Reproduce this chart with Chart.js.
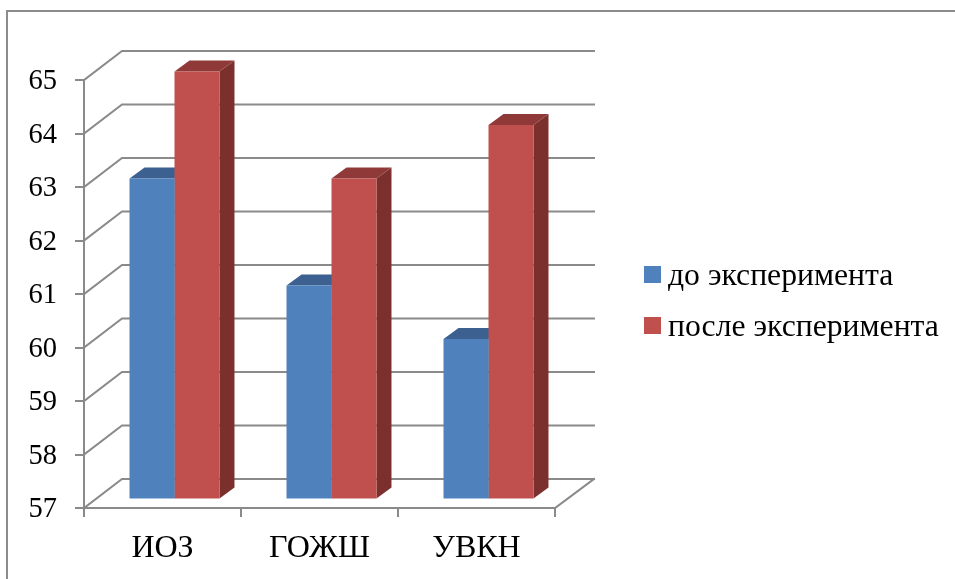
<!DOCTYPE html>
<html lang="ru">
<head>
<meta charset="utf-8">
<title>ИОЗ, ГОЖШ, УВКН</title>
<script src="https://cdn.jsdelivr.net/npm/chart.js@4"></script>
<style>
  html, body { margin: 0; padding: 0; background: #fff; }
  canvas { display: block; }
</style>
</head>
<body>
<canvas id="chart" width="955" height="579"></canvas>
<script>
const categories = ['ИОЗ', 'ГОЖШ', 'УВКН'];
const beforeValues = [63, 61, 60];
const afterValues = [65, 63, 64];
const seriesNames = ['до эксперимента', 'после эксперимента'];

const AXIS_MIN = 57;
const AXIS_MAX = 65;

const FONT = '"Liberation Serif", "Times New Roman", serif';
const LINE = '#8a8a8a';
const FACE = ['#4f81bd', '#c0504d'];
const TOP = ['#3c6190', '#8f3a38'];
const SIDE = ['#37587f', '#7c302e'];

// Depth of the box (wall offset) and of the bars, plus where bars sit on the floor.
const WALL = { dx: 39, dy: -29 };
const BAR_SHIFT = { dx: 12, dy: -8.5 };
const BAR_DEPTH = { dx: 15, dy: -11 };

const framePlugin = {
  id: 'frame',
  beforeDraw(chart) {
    const { ctx } = chart;
    ctx.save();
    ctx.strokeStyle = '#8c8c8c';
    ctx.lineWidth = 2;
    ctx.beginPath();
    ctx.moveTo(7, 579);
    ctx.lineTo(7, 11);
    ctx.lineTo(955, 11);
    ctx.stroke();
    ctx.restore();
  }
};

function polygon(ctx, color, pts) {
  ctx.fillStyle = color;
  ctx.beginPath();
  pts.forEach((p, i) => (i ? ctx.lineTo(p[0], p[1]) : ctx.moveTo(p[0], p[1])));
  ctx.closePath();
  ctx.fill();
}

// Back wall, floor and the hidden faces of each bar; front faces come from Chart.js.
const depthPlugin = {
  id: 'depth',
  beforeDatasetsDraw(chart) {
    const { ctx, chartArea: area, scales: { y } } = chart;
    ctx.save();
    ctx.strokeStyle = LINE;
    ctx.lineWidth = 2;
    ctx.lineCap = 'square';
    y.ticks.forEach(t => {
      const py = y.getPixelForValue(t.value);
      ctx.beginPath();
      ctx.moveTo(area.left, py);
      ctx.lineTo(area.left + 38, py + WALL.dy);
      ctx.lineTo(area.right + WALL.dx, py + WALL.dy);
      ctx.stroke();
    });
    ctx.beginPath();
    ctx.moveTo(area.right, y.getPixelForValue(AXIS_MIN));
    ctx.lineTo(area.right + WALL.dx, y.getPixelForValue(AXIS_MIN) + WALL.dy);
    ctx.stroke();
    ctx.restore();

    ctx.save();
    ctx.translate(BAR_SHIFT.dx, BAR_SHIFT.dy);
    chart.data.datasets.forEach((ds, di) => {
      chart.getDatasetMeta(di).data.forEach(bar => {
        const l = bar.x - bar.width / 2;
        const r = bar.x + bar.width / 2;
        const t = bar.y;
        const b = bar.base;
        const d = BAR_DEPTH;
        polygon(ctx, SIDE[di], [[r, t], [r + d.dx, t + d.dy], [r + d.dx, b + d.dy], [r, b]]);
        polygon(ctx, TOP[di], [[l, t], [l + d.dx, t + d.dy], [r + d.dx, t + d.dy], [r, t]]);
      });
    });
    // The shift stays active while Chart.js paints the bar fronts.
  },
  afterDatasetsDraw(chart) {
    chart.ctx.restore();
  }
};

const legendPlugin = {
  id: 'sideLegend',
  afterDraw(chart) {
    const { ctx } = chart;
    ctx.save();
    ctx.font = '31.7px ' + FONT;
    ctx.textBaseline = 'alphabetic';
    chart.data.datasets.forEach((ds, i) => {
      const y = 266 + i * 51;
      ctx.fillStyle = ds.backgroundColor;
      ctx.fillRect(644, y, 17, 17);
      ctx.fillStyle = '#000';
      ctx.fillText(ds.label, 668, y + 19);
    });
    ctx.restore();
  }
};

new Chart(document.getElementById('chart'), {
  type: 'bar',
  data: {
    labels: categories,
    datasets: [
      { label: seriesNames[0], data: beforeValues, base: AXIS_MIN, backgroundColor: FACE[0], clip: false },
      { label: seriesNames[1], data: afterValues, base: AXIS_MIN, backgroundColor: FACE[1], clip: false }
    ]
  },
  options: {
    responsive: false,
    animation: false,
    events: [],
    layout: { padding: { left: 0, top: 80, right: 400, bottom: 0 } },
    datasets: { bar: { categoryPercentage: 0.573, barPercentage: 1 } },
    plugins: { legend: { display: false }, tooltip: { enabled: false } },
    scales: {
      x: {
        afterFit(scale) { scale.height = 71; },
        border: { color: LINE, width: 2 },
        grid: { drawOnChartArea: false, drawTicks: true, tickLength: 9, color: LINE, lineWidth: 2 },
        ticks: { color: '#000', font: { family: FONT, size: 32 }, padding: 12, maxRotation: 0 }
      },
      y: {
        min: AXIS_MIN,
        max: AXIS_MAX,
        afterFit(scale) { scale.width = 84; },
        border: { color: LINE, width: 2 },
        grid: { drawOnChartArea: false, drawTicks: true, tickLength: 9, color: LINE, lineWidth: 2 },
        ticks: { stepSize: 1, color: '#000', font: { family: FONT, size: 28.5 }, padding: 18, labelOffset: 2 }
      }
    }
  },
  plugins: [framePlugin, depthPlugin, legendPlugin]
});
</script>
</body>
</html>
